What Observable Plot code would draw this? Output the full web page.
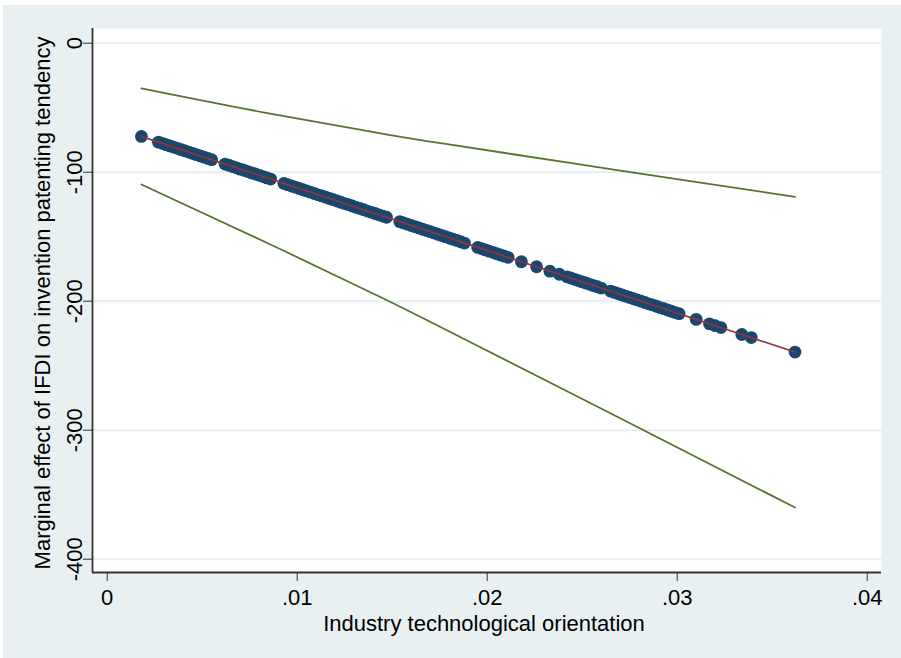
<!DOCTYPE html>
<html><head><meta charset="utf-8">
<script src="https://cdn.jsdelivr.net/npm/d3@7"></script>
<script src="https://cdn.jsdelivr.net/npm/@observablehq/plot@0.6"></script>
<style>
html,body{margin:0;padding:0;background:#fff;}
#wrap{position:absolute;left:3px;top:5px;width:898px;height:653px;background:#e8f0f2;overflow:hidden;}
</style></head><body><div id="wrap"></div>
<script>
const xTicks = [0, 0.01, 0.02, 0.03, 0.04];
const yTicks = [0, -100, -200, -300, -400];
const xDomain = [-0.000774, 0.040753];
const yDomain = [-410.3, 11.4];
const xTitle = "Industry technological orientation";
const yTitle = "Marginal effect of IFDI on invention patenting tendency";

const pointX = [
  0.0018,
  0.0027,0.0029,0.0031,0.0033,0.0035,0.0037,0.0039,0.0041,0.0043,0.0045,0.0047,0.0049,0.0051,0.0053,0.0055,
  0.0062,0.0064,0.0066,0.0068,0.0070,0.0072,0.0074,0.0076,0.0078,0.0080,0.0082,0.0084,0.0086,
  0.0093,0.0095,0.0097,0.0099,0.0101,0.0103,0.0105,0.0107,0.0109,0.0111,0.0113,0.0115,0.0117,0.0119,
  0.0121,0.0123,0.0125,0.0127,0.0129,0.0131,0.0133,0.0135,0.0137,0.0139,0.0141,0.0143,0.0145,0.0147,
  0.0154,0.0156,0.0158,0.0160,0.0162,0.0164,0.0166,0.0168,0.0170,0.0172,0.0174,0.0176,0.0178,0.0180,0.0182,0.0184,0.0186,0.0188,
  0.0195,0.0197,0.0199,0.0201,0.0203,0.0205,0.0207,0.0209,0.0211,
  0.0218,0.0226,0.0233,0.0238,
  0.0242,0.0244,0.0246,0.0248,0.0250,0.0252,0.0254,0.0256,0.0258,0.0260,
  0.0265,0.0267,0.0269,0.0271,0.0273,0.0275,0.0277,0.0279,0.0281,0.0283,0.0285,0.0287,0.0289,0.0291,0.0293,0.0295,0.0297,0.0299,0.0301,
  0.0310,0.0317,0.0320,0.0323,0.0334,0.0339,0.0362
];
const pointY = [
  -72.3,
  -76.7,-77.6,-78.6,-79.6,-80.6,-81.5,-82.5,-83.5,-84.4,-85.4,-86.4,-87.4,-88.3,-89.3,-90.3,
  -93.7,-94.6,-95.6,-96.6,-97.6,-98.5,-99.5,-100.5,-101.4,-102.4,-103.4,-104.4,-105.3,
  -108.7,-109.7,-110.7,-111.6,-112.6,-113.6,-114.5,-115.5,-116.5,-117.5,-118.4,-119.4,-120.4,-121.3,
  -122.3,-123.3,-124.3,-125.2,-126.2,-127.2,-128.1,-129.1,-130.1,-131.1,-132.0,-133.0,-134.0,-134.9,
  -138.3,-139.3,-140.3,-141.3,-142.2,-143.2,-144.2,-145.1,-146.1,-147.1,-148.1,-149.0,-150.0,-151.0,-151.9,-152.9,-153.9,-154.9,
  -158.3,-159.2,-160.2,-161.2,-162.1,-163.1,-164.1,-165.1,-166.0,
  -169.4,-173.3,-176.7,-179.1,
  -181.1,-182.0,-183.0,-184.0,-185.0,-185.9,-186.9,-187.9,-188.8,-189.8,
  -192.2,-193.2,-194.2,-195.2,-196.1,-197.1,-198.1,-199.0,-200.0,-201.0,-202.0,-202.9,-203.9,-204.9,-205.8,-206.8,-207.8,-208.8,-209.7,
  -214.1,-217.5,-219.0,-220.4,-225.8,-228.2,-239.4
];
const ciX = [0.0018, 0.0082, 0.0144, 0.0179, 0.0270, 0.0362];
const ciUpper = [-35.1, -53.6, -69.9, -78.3, -98.7, -119.1];
const ciLower = [-109.5, -153.3, -196.9, -222.7, -290.7, -359.9];

const points = pointX.map((x, i) => ({x, y: pointY[i]}));
const ci = ciX.map((x, i) => ({x, upper: ciUpper[i], lower: ciLower[i]}));

const font = "'Liberation Sans', Arial, Helvetica, sans-serif";
const chart = Plot.plot({
  width: 898, height: 653,
  marginLeft: 89, marginRight: 20, marginTop: 23, marginBottom: 86,
  style: {background: "transparent", fontFamily: font, color: "#000", overflow: "visible"},
  x: {domain: xDomain},
  y: {domain: yDomain},
  marks: [
    Plot.frame({fill: "#ffffff", stroke: "none"}),
    Plot.gridY(yTicks, {stroke: "#e6eef0", strokeOpacity: 1, strokeWidth: 2}),
    Plot.line(ci, {x: "x", y: "upper", stroke: "#55752f", strokeWidth: 1.8, curve: "natural"}),
    Plot.line(ci, {x: "x", y: "lower", stroke: "#55752f", strokeWidth: 1.8, curve: "natural"}),
    Plot.dot(points, {x: "x", y: "y", r: 6.4, fill: "#1a476f", stroke: "none"}),
    Plot.line(points, {x: "x", y: "y", stroke: "#90353b", strokeWidth: 1.7}),
    Plot.ruleX([xDomain[0]], {stroke: "#333", strokeWidth: 1.8}),
    Plot.ruleY([yDomain[0]], {stroke: "#333", strokeWidth: 1.8}),
    Plot.axisX({ticks: xTicks, tickSize: 9, tickPadding: 8, fontSize: 22, stroke: "#333", label: null,
      tickFormat: d => d === 0 ? "0" : d3.format(".2f")(d).replace(/^0/, "")}),
    Plot.axisY({ticks: yTicks, tickSize: 9, tickPadding: 2, tickRotate: -90, fontSize: 22, stroke: "#333", label: null,
      tickFormat: d => String(d)}),
    Plot.text([xTitle], {frameAnchor: "bottom", text: d => d, dy: 58, dx: -3, lineAnchor: "bottom", textAnchor: "middle", fontSize: 22, fill: "#000"}),
    Plot.text([yTitle], {frameAnchor: "left", text: d => d, dx: -43, dy: 2.5, rotate: -90, lineAnchor: "bottom", textAnchor: "middle", fontSize: 22, fill: "#000"})
  ]
});
document.getElementById("wrap").appendChild(chart);
</script>
</body></html>
